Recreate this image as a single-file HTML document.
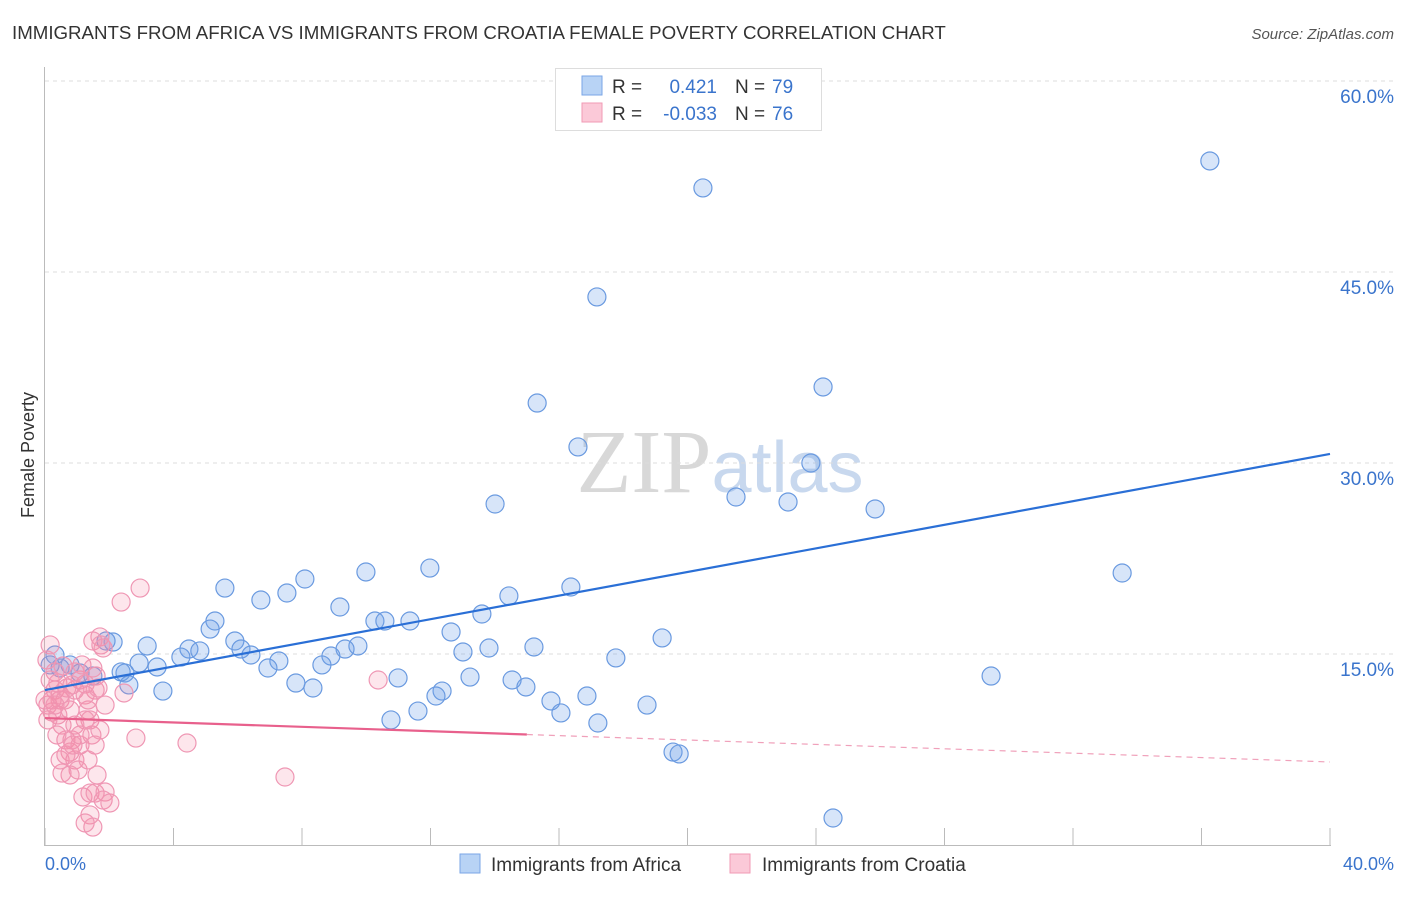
<!DOCTYPE html>
<html><head><meta charset="utf-8"><style>
body{margin:0;background:#fff;font-family:"Liberation Sans",sans-serif;}
svg text{font-family:"Liberation Sans",sans-serif;}
</style></head><body>
<svg width="1406" height="892" xmlns="http://www.w3.org/2000/svg" id="chart">
<text x="12" y="39" font-size="18.7" fill="#333">IMMIGRANTS FROM AFRICA VS IMMIGRANTS FROM CROATIA FEMALE POVERTY CORRELATION CHART</text>
<text x="1394" y="39" font-size="15" fill="#555" font-style="italic" text-anchor="end">Source: ZipAtlas.com</text>
<text x="720" y="492" font-size="90" fill="#ddd" text-anchor="middle" font-family="Liberation Serif"><tspan fill="#d8d8d8" font-family="Liberation Serif">ZIP</tspan><tspan fill="#c8d8ee" font-size="72" font-family="Liberation Sans">atlas</tspan></text>
<g id="grid"></g>
<g id="axes"></g>
<g id="pts"></g>
<g id="trends"></g>
<text transform="translate(34,455) rotate(-90)" font-size="18" fill="#333" text-anchor="middle">Female Poverty</text>
<text x="45" y="870" font-size="18" fill="#3a74cc">0.0%</text>
<text x="1394" y="870" font-size="18" fill="#3a74cc" text-anchor="end">40.0%</text>
<g>
<rect x="555.5" y="68.5" width="266" height="62" fill="#fff" stroke="#ddd"/>
<rect x="582" y="76" width="20" height="19" fill="#b8d3f5" stroke="#7aa6e6"/>
<rect x="582" y="103" width="20" height="19" fill="#fbc9d8" stroke="#f09ab5"/>
<text x="612" y="93" font-size="19" fill="#333">R =</text><text x="717" y="93" font-size="19" fill="#3a74cc" text-anchor="end">0.421</text>
<text x="735" y="93" font-size="19" fill="#333">N =</text><text x="772" y="93" font-size="19" fill="#3a74cc">79</text>
<text x="612" y="120" font-size="19" fill="#333">R =</text><text x="717" y="120" font-size="19" fill="#3a74cc" text-anchor="end">-0.033</text>
<text x="735" y="120" font-size="19" fill="#333">N =</text><text x="772" y="120" font-size="19" fill="#3a74cc">76</text>
</g>
<g>
<rect x="460" y="854" width="20" height="19" fill="#b8d3f5" stroke="#7aa6e6"/>
<text x="491" y="871" font-size="19" fill="#333">Immigrants from Africa</text>
<rect x="730" y="854" width="20" height="19" fill="#fbc9d8" stroke="#f09ab5"/>
<text x="762" y="871" font-size="19" fill="#333">Immigrants from Croatia</text>
</g>
</svg>
<script>
const yTicks=[15,30,45,60];
const yTickLabels=["15.0%","30.0%","45.0%","60.0%"];
const xTicks=[0,4,8,12,16,20,24,28,32,36,40];
const africaX=[36.26,20.48,17.18,24.22,15.32,16.59,23.84,14.01,21.51,23.13,25.84,33.53,11.98,9.99,8.09,5.60,6.72,7.53,9.18,16.37,14.44,13.60,10.27,10.58,11.36,5.29,5.14,12.64,19.21,5.91,3.18,2.12,1.90,4.48,4.82,6.10,4.23,6.41,9.74,9.34,13.82,15.22,13.01,7.28,8.90,8.62,6.94,3.49,2.93,17.77,2.49,2.37,29.45,10.99,13.23,14.54,7.81,8.34,2.61,3.67,12.36,14.97,12.17,16.87,15.75,18.74,16.06,11.61,10.77,17.21,19.55,19.74,24.53,0.78,0.47,0.31,0.16,1.09,1.49];
const africaY=[53.72,51.6,43.04,35.97,34.71,31.26,30.0,26.78,27.33,26.94,26.39,21.36,21.75,21.44,20.89,20.18,19.24,19.79,18.69,20.26,19.56,18.14,17.59,17.59,17.59,17.59,16.96,16.73,16.26,16.02,15.63,15.94,16.02,15.39,15.24,15.39,14.76,14.92,15.63,15.39,15.47,15.55,15.16,14.45,14.84,14.14,13.90,13.98,14.29,14.69,13.51,13.59,13.27,13.12,13.19,12.96,12.72,12.33,12.57,12.09,12.09,12.41,11.70,11.70,11.31,10.99,10.37,10.52,9.82,9.58,7.30,7.15,2.12,14.14,13.90,14.92,14.14,13.51,13.27];
const croatiaX=[2.96,2.37,7.47,4.42,2.83,10.37,1.71,1.49,1.74,1.81,2.46,1.56,1.59,1.25,0.16,0.06,0.31,0.47,0.22,0.09,0.40,0.62,0.78,0.93,1.09,1.25,1.34,1.40,0.53,0.65,0.78,0.93,1.09,1.46,1.56,1.71,1.03,0.78,0.53,0.47,0.84,1.34,1.62,1.18,1.40,1.56,1.87,1.81,2.02,1.40,1.49,1.25,1.34,0.68,0.31,0.16,0.40,0.56,0.93,1.15,1.49,1.65,1.87,1.25,0.93,1.09,0.65,0.87,0.37,0.47,0.84,0.22,0.09,0,0.31];
const croatiaY=[20.18,19.08,5.34,8.01,8.40,12.96,16.34,16.02,15.71,15.47,11.94,12.17,13.27,12.64,15.71,14.53,12.17,11.39,10.45,10.99,10.21,11.39,10.60,12.17,12.96,11.78,10.60,9.82,9.42,8.25,7.30,6.68,7.85,8.64,7.85,9.03,5.89,5.50,5.65,6.68,8.25,6.68,5.50,3.77,4.08,4.08,4.16,3.53,3.30,2.36,1.41,1.73,11.39,12.33,13.59,12.96,12.72,14.06,13.59,14.14,13.90,12.33,10.99,9.82,9.42,8.64,7.07,7.85,8.64,11.78,12.57,11.39,9.82,11.39,10.99];
const africaTrend=[12.17,30.71];
const croatiaTrend=[9.97,6.52];
const croatiaSolidEnd=15;
const NS="http://www.w3.org/2000/svg";
const X=v=>45+v/40*1285, Y=v=>845-v*191/15;
function mk(tag,attrs,parent){const e=document.createElementNS(NS,tag);for(const k in attrs)e.setAttribute(k,attrs[k]);parent.appendChild(e);return e;}
const grid=document.getElementById('grid'),axes=document.getElementById('axes'),pts=document.getElementById('pts'),tr=document.getElementById('trends');
yTicks.forEach((t,i)=>{
 const l=mk('line',{x1:45,x2:1394,y1:Y(t),y2:Y(t),stroke:'#ddd','stroke-dasharray':'4,4'},grid);
 
 
 const tx=mk('text',{x:1394,y:Y(t)+22,'font-size':19,fill:'#3a74cc','text-anchor':'end'},grid);
 tx.textContent=yTickLabels[i];
 
 
});
let a=mk('line',{x1:44.5,x2:44.5,y1:67,y2:845,stroke:'#bbb'},axes);


a=mk('line',{x1:44,x2:1331,y1:845.5,y2:845.5,stroke:'#bbb'},axes);


xTicks.forEach(t=>{const l=mk('line',{x1:X(t),x2:X(t),y1:828,y2:845,stroke:'#bbb'},axes);
 
 });
africaX.forEach((v,i)=>{const c=mk('circle',{cx:X(v),cy:Y(africaY[i]),r:9,fill:'rgba(110,160,235,0.28)',stroke:'#6a9ae0','stroke-width':1.2},pts);
 
 });
croatiaX.forEach((v,i)=>{const c=mk('circle',{cx:X(v),cy:Y(croatiaY[i]),r:9,fill:'rgba(245,140,170,0.22)',stroke:'#ef97b4','stroke-width':1.2},pts);
 
 });
let l=mk('line',{x1:X(0),y1:Y(africaTrend[0]),x2:X(40),y2:Y(africaTrend[1]),stroke:'#2a6fd6','stroke-width':2.2},tr);


const cy=v=>croatiaTrend[0]+(croatiaTrend[1]-croatiaTrend[0])*v/40;
l=mk('line',{x1:X(0),y1:Y(cy(0)),x2:X(croatiaSolidEnd),y2:Y(cy(croatiaSolidEnd)),stroke:'#e8608c','stroke-width':2.2},tr);


l=mk('line',{x1:X(croatiaSolidEnd),y1:Y(cy(croatiaSolidEnd)),x2:X(40),y2:Y(cy(40)),stroke:'#f0a0ba','stroke-width':1.2,'stroke-dasharray':'6,5'},tr);


</script>
</body></html>
